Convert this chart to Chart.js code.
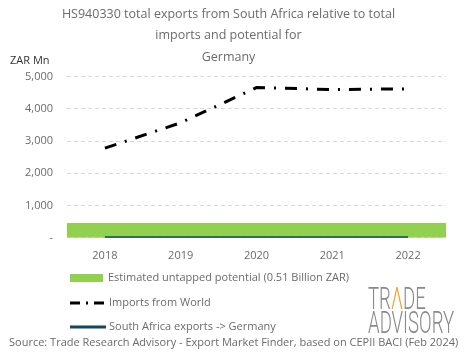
<!DOCTYPE html>
<html>
<head>
<meta charset="utf-8">
<script src="https://cdn.jsdelivr.net/npm/chart.js@4.4.1/dist/chart.umd.min.js"></script>
<style>
  html, body { margin: 0; padding: 0; background: #fff; }
  #wrap { position: relative; width: 465px; height: 359px; font-family: "Open Sans", sans-serif; color: #6b6b6b; }
  #chart { position: absolute; left: 0; top: 0; }
  .abs { position: absolute; white-space: nowrap; }
  .leg { font-size: 11px; }
  #logo { font-family: Roboto, sans-serif; font-weight: 300; color: #8a8a8a; font-size: 31px; line-height: 24px; transform: scaleX(0.6); transform-origin: left top; }
</style>
</head>
<body>
<div id="wrap">
  <canvas id="chart" width="465" height="359"></canvas>
  <div class="abs" style="left:10px; top:52px; font-size:11px; color:#333;">ZAR Mn</div>
  <svg class="abs" style="left:70px; top:272px;" width="36" height="12"><rect x="0" y="2" width="33" height="8" fill="#92d050"/></svg>
  <div class="abs leg" style="left:108px; top:269px;">Estimated untapped potential (0.51 Billion ZAR)</div>
  <svg class="abs" style="left:68px; top:297px;" width="40" height="12"><line x1="2" y1="6" x2="38" y2="6" stroke="#000" stroke-width="3" stroke-dasharray="10,6,2,6"/></svg>
  <div class="abs leg" style="left:109px; top:294px;">Imports from World</div>
  <svg class="abs" style="left:68px; top:321px;" width="40" height="12"><line x1="2" y1="6" x2="38" y2="6" stroke="#17475a" stroke-width="3"/></svg>
  <div class="abs leg" style="left:109px; top:318px;">South Africa exports -&gt; Germany</div>
  <div class="abs" id="logo" style="left:368px; top:287px;">TR<span style="color:#f0a030">&Lambda;</span>DE<br>ADVISORY</div>
  <div class="abs" style="left:9px; top:334px; font-size:11px;">Source: Trade Research Advisory - Export Market Finder, based on CEPII BACI (Feb 2024)</div>
</div>
<script>
const years = ["2018", "2019", "2020", "2021", "2022"];
const potential = [450, 450, 450, 450, 450];
const importsWorld = [2780, 3570, 4660, 4600, 4620];
const saExports = [8, 6, 10, 7, 9];
const titleLines = [
  "HS940330 total exports from South Africa relative to total",
  "imports and potential for",
  "Germany"
];

new Chart(document.getElementById("chart"), {
  data: {
    labels: years,
    datasets: [
      {
        type: "line",
        label: "South Africa exports -> Germany",
        data: saExports,
        borderColor: "#17475a",
        borderWidth: 2.5,
        pointRadius: 0,
        tension: 0.4,
        order: 0,
      },
      {
        type: "line",
        label: "Imports from World",
        data: importsWorld,
        borderColor: "#000000",
        borderWidth: 3,
        borderDash: [12, 9, 2, 9],
        pointRadius: 0,
        tension: 0,
        order: 1,
      },
      {
        type: "bar",
        label: "Estimated untapped potential (0.51 Billion ZAR)",
        data: potential,
        backgroundColor: "#92d050",
        barPercentage: 1,
        categoryPercentage: 1,
        order: 2,
      },
    ],
  },
  options: {
    responsive: false,
    animation: false,
    layout: {
      padding: { left: 11, right: 19, top: 3, bottom: 94 },
    },
    plugins: {
      legend: { display: false },
      tooltip: { enabled: false },
      title: {
        display: true,
        text: titleLines,
        color: "#6b6b6b",
        font: { family: "Open Sans", size: 12.5, weight: "normal", lineHeight: 1.75 },
        padding: { top: 0, bottom: 8 },
      },
    },
    scales: {
      x: {
        grid: { display: false },
        border: { display: false },
        ticks: {
          color: "#6b6b6b",
          font: { family: "Open Sans", size: 11 },
          padding: 3,
        },
      },
      y: {
        min: 0,
        max: 5000,
        grid: {
          color: "#d9d9d9",
          drawTicks: false,
        },
        border: { display: false, dash: [4, 3] },
        ticks: {
          stepSize: 1000,
          color: "#6b6b6b",
          font: { family: "Open Sans", size: 11 },
          padding: 14,
          callback: function (value) {
            return value === 0 ? "-" : value.toLocaleString("en-US");
          },
        },
      },
    },
  },
});
</script>
</body>
</html>
